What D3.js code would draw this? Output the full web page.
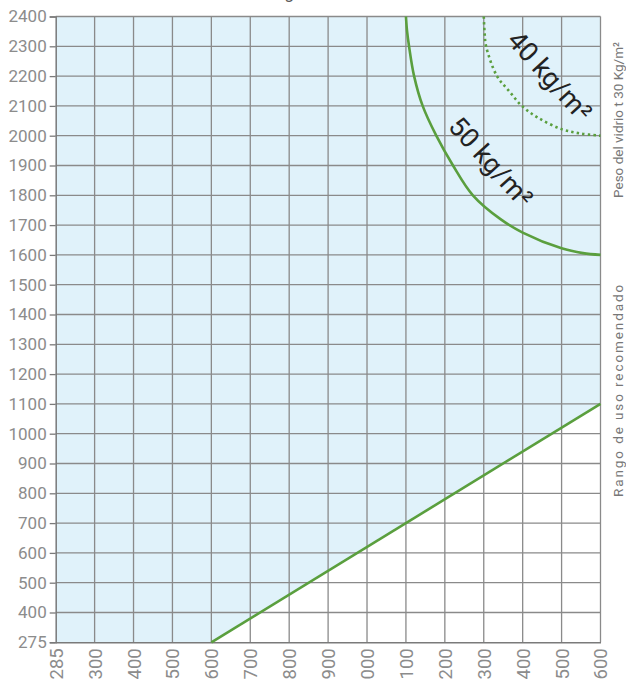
<!DOCTYPE html>
<html>
<head>
<meta charset="utf-8">
<script src="https://cdn.jsdelivr.net/npm/d3@7"></script>
<style>
  html, body { margin: 0; padding: 0; background: #fff; overflow: hidden; }
  svg { display: block; }
  text { font-family: Roboto, "Noto Sans", sans-serif; }
</style>
</head>
<body>
<svg id="chart" width="626" height="682"></svg>
<script>
// ---- data ----
const xTicks = [285, 300, 400, 500, 600, 700, 800, 900, 1000, 1100, 1200, 1300, 1400, 1500, 1600];
const yTicks = [275, 400, 500, 600, 700, 800, 900, 1000, 1100, 1200, 1300, 1400, 1500, 1600, 1700, 1800, 1900, 2000, 2100, 2200, 2300, 2400];

const limitX = [600, 1600];
const limitY = [275, 1100];

const curve50X = [1100, 1103, 1108, 1121, 1143, 1178, 1221, 1272, 1343, 1400, 1500, 1555, 1600];
const curve50Y = [2400, 2350, 2300, 2200, 2100, 2000, 1900, 1800, 1720, 1675, 1622, 1606, 1600];

const curve40X = [1300, 1302, 1306, 1334, 1365, 1398, 1440, 1500, 1550, 1600];
const curve40Y = [2400, 2350, 2300, 2200, 2150, 2100, 2060, 2022, 2007, 2000];

const label50 = "50 kg/m²";
const label40 = "40 kg/m²";
const sideLabelTop = "Peso del vidrio t 30 Kg/m²";
const sideLabelBottom = "Rango de uso recomendado";
const chartTitle = "Diagrama";

// ---- layout ----
const mLeft = 55.7, mRight = 600.5, mTop = 16.5, mBottom = 642.3;

const xStep = (mRight - mLeft) / (xTicks.length - 1);
const yStep = (mBottom - mTop) / (yTicks.length - 1);

const x = d3.scaleLinear()
  .domain(xTicks)
  .range(xTicks.map((d, i) => mLeft + i * xStep));
const y = d3.scaleLinear()
  .domain(yTicks)
  .range(yTicks.map((d, i) => mBottom - i * yStep));

const svg = d3.select("#chart");

const green = "#5a9f3e";
const gridColor = "#8a8a8a";
const labelColor = "#8c8c8c";

const xMin = xTicks[0], xMax = xTicks[xTicks.length - 1];
const yMin = yTicks[0], yMax = yTicks[yTicks.length - 1];
const fillPts = [
  [xMin, yMin],
  [limitX[0], limitY[0]],
  [limitX[1], limitY[1]],
  [xMax, yMax],
  [xMin, yMax]
];
svg.append("path")
  .attr("d", d3.line().x(d => x(d[0])).y(d => y(d[1]))(fillPts) + "Z")
  .attr("fill", "#e0f2fa");

// grid
const grid = svg.append("g");
grid.selectAll("line.v")
  .data(xTicks.slice(1))
  .join("line")
  .attr("class", "v")
  .attr("x1", d => x(d)).attr("x2", d => x(d))
  .attr("y1", y(yMax)).attr("y2", y(yMin))
  .attr("stroke", gridColor).attr("stroke-width", 1.3);
grid.selectAll("line.h")
  .data(yTicks.slice(1))
  .join("line")
  .attr("class", "h")
  .attr("y1", d => y(d)).attr("y2", d => y(d))
  .attr("x1", x(xMin)).attr("x2", x(xMax))
  .attr("stroke", gridColor).attr("stroke-width", 1.3);

// axes
const yAxis = svg.append("g")
  .attr("transform", `translate(${mLeft},0)`)
  .call(d3.axisLeft(y).tickValues(yTicks).tickSize(6).tickPadding(3).tickFormat(d => d));
yAxis.select(".domain").attr("stroke", "#7a7a7a").attr("stroke-width", 1.5);
yAxis.selectAll(".tick line").attr("stroke", "#7a7a7a").attr("stroke-width", 1.3);
yAxis.selectAll(".tick text")
  .attr("fill", labelColor)
  .style("font-size", "17px")
  .style("font-family", "Roboto, sans-serif");

const xAxis = svg.append("g")
  .attr("transform", `translate(0,${mBottom})`)
  .call(d3.axisBottom(x).tickValues(xTicks).tickSize(0).tickPadding(0).tickFormat(d => d));
xAxis.select(".domain").attr("stroke", "#7a7a7a").attr("stroke-width", 1.5);
xAxis.selectAll(".tick text")
  .attr("fill", labelColor)
  .style("font-size", "18.5px")
  .style("font-family", "Roboto, sans-serif")
  .attr("text-anchor", "end")
  .attr("transform", "rotate(-90)")
  .attr("x", -6)
  .attr("y", 0)
  .attr("dy", "0.35em");

// limit line
svg.append("path")
  .attr("d", d3.line().x(d => x(d[0])).y(d => y(d[1]))(limitX.map((v, i) => [v, limitY[i]])))
  .attr("fill", "none")
  .attr("stroke", green)
  .attr("stroke-width", 2.6);

// curves
const curveLine = d3.line().x(d => x(d[0])).y(d => y(d[1])).curve(d3.curveCatmullRom.alpha(0.5));
svg.append("path")
  .attr("d", curveLine(curve50X.map((v, i) => [v, curve50Y[i]])))
  .attr("fill", "none")
  .attr("stroke", green)
  .attr("stroke-width", 2.6);
svg.append("path")
  .attr("d", curveLine(curve40X.map((v, i) => [v, curve40Y[i]])))
  .attr("fill", "none")
  .attr("stroke", green)
  .attr("stroke-width", 2.6)
  .attr("stroke-dasharray", "2.4,3.2");

// curve labels
svg.append("text")
  .attr("transform", "translate(491,162) rotate(48)")
  .attr("text-anchor", "middle")
  .attr("dy", "0.35em")
  .attr("fill", "#222")
  .style("font-size", "27px")
  .text(label50);
svg.append("text")
  .attr("transform", "translate(550,76) rotate(48)")
  .attr("text-anchor", "middle")
  .attr("dy", "0.35em")
  .attr("fill", "#222")
  .style("font-size", "27px")
  .text(label40);

// side labels
svg.append("text")
  .attr("transform", "translate(618,120) rotate(-90)")
  .attr("text-anchor", "middle")
  .attr("dy", "0.35em")
  .attr("fill", "#777")
  .style("font-size", "13.5px")
  .text(sideLabelTop);
svg.append("text")
  .attr("transform", "translate(618,390) rotate(-90)")
  .attr("text-anchor", "middle")
  .attr("dy", "0.35em")
  .attr("fill", "#777")
  .style("font-size", "13.5px")
  .style("letter-spacing", "1.9px")
  .text(sideLabelBottom);

// title (mostly above the visible area)
svg.append("text")
  .attr("x", 260)
  .attr("y", -1)
  .attr("fill", "#555")
  .style("font-size", "17px")
  .text(chartTitle);
</script>
</body>
</html>
